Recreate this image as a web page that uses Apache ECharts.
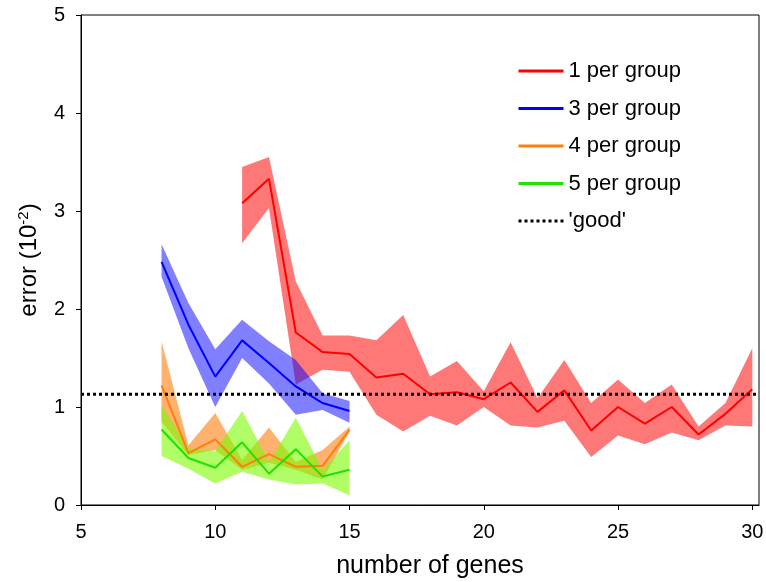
<!DOCTYPE html>
<html>
<head>
    <meta charset="utf-8">
    <script src="https://cdn.jsdelivr.net/npm/echarts@6/dist/echarts.min.js"></script>
    <style>
        html, body { margin: 0; padding: 0; background: #fff; }
    </style>
</head>
<body>
<div id="main" style="width: 766px; height: 582px"></div>
<script type="text/javascript">
    // number of genes per series
    var genes1 = [11, 12, 13, 14, 15, 16, 17, 18, 19, 20, 21, 22, 23, 24, 25, 26, 27, 28, 29, 30];
    var genesSmall = [8, 9, 10, 11, 12, 13, 14, 15];

    // 1 per group
    var mean1 = [3.08, 3.33, 1.76, 1.56, 1.54, 1.30, 1.34, 1.13, 1.15, 1.08, 1.25, 0.95, 1.17, 0.76, 1.00, 0.83, 1.00, 0.72, 0.93, 1.18];
    var hi1   = [3.45, 3.55, 2.28, 1.73, 1.73, 1.68, 1.94, 1.31, 1.47, 1.16, 1.66, 1.09, 1.48, 1.04, 1.28, 1.04, 1.23, 0.80, 1.04, 1.60];
    var lo1   = [2.67, 3.03, 1.23, 1.38, 1.36, 0.92, 0.75, 0.91, 0.81, 1.00, 0.81, 0.79, 0.86, 0.49, 0.71, 0.62, 0.74, 0.66, 0.81, 0.80];

    // 3 per group
    var mean3 = [2.48, 1.84, 1.31, 1.68, 1.45, 1.21, 1.04, 0.96];
    var hi3   = [2.66, 2.06, 1.59, 1.89, 1.67, 1.48, 1.14, 1.06];
    var lo3   = [2.33, 1.60, 1.00, 1.50, 1.24, 0.92, 0.97, 0.84];

    // 4 per group
    var mean4 = [1.22, 0.53, 0.67, 0.39, 0.52, 0.39, 0.40, 0.77];
    var hi4   = [1.67, 0.61, 0.94, 0.46, 0.79, 0.44, 0.56, 0.80];
    var lo4   = [0.85, 0.51, 0.56, 0.36, 0.43, 0.36, 0.26, 0.75];

    // 5 per group
    var mean5 = [0.77, 0.48, 0.38, 0.64, 0.32, 0.57, 0.29, 0.36];
    var hi5   = [1.02, 0.58, 0.55, 0.96, 0.44, 0.89, 0.36, 0.66];
    var lo5   = [0.50, 0.37, 0.22, 0.34, 0.26, 0.21, 0.22, 0.10];

    var goodLevel = 1.13;
    var xTicks = [5, 10, 15, 20, 25, 30];
    var yTicks = [0, 1, 2, 3, 4, 5];

    var font = 'Liberation Sans, Arial, sans-serif';

    function pairs(xs, ys) {
        return xs.map(function (x, i) { return [x, ys[i]]; });
    }

    // shaded band between lo and hi, drawn as one polygon
    function band(xs, lo, hi, color) {
        return {
            type: 'custom',
            silent: true,
            z: 1,
            data: [0],
            renderItem: function (params, api) {
                var pts = [];
                for (var i = 0; i < xs.length; i++) pts.push(api.coord([xs[i], hi[i]]));
                for (var j = xs.length - 1; j >= 0; j--) pts.push(api.coord([xs[j], lo[j]]));
                return {
                    type: 'polygon',
                    shape: { points: pts },
                    style: { fill: color }
                };
            }
        };
    }

    function meanLine(name, xs, ys, color) {
        return {
            name: name, type: 'line', symbol: 'none', z: 3,
            data: pairs(xs, ys),
            lineStyle: { color: color, width: 2 },
            itemStyle: { color: color }
        };
    }

    var myChart = echarts.init(document.getElementById('main'));
    var option = {
        animation: false,
        backgroundColor: '#fff',
        textStyle: { fontFamily: font },
        grid: {
            left: 81, right: 7, top: 15, bottom: 77,
            outerBoundsMode: 'none',
            show: true, borderColor: '#000', borderWidth: 1
        },
        legend: {
            data: ['1 per group', '3 per group', '4 per group', '5 per group', "'good'"],
            orient: 'vertical',
            left: 512, top: 55,
            itemWidth: 45, itemHeight: 22, itemGap: 15.5,
            itemStyle: { opacity: 0 },
            lineStyle: { width: 3 },
            textStyle: { fontSize: 22, color: '#000', fontFamily: font }
        },
        xAxis: {
            type: 'value', min: 5, max: 30.25,
            name: 'number of genes', nameLocation: 'middle', nameGap: 49,
            nameTextStyle: { fontSize: 25, color: '#000', fontFamily: font, padding: [0, 0, 0, 20] },
            splitLine: { show: false },
            axisLine: { lineStyle: { color: '#000', width: 1 } },
            axisTick: { length: 5, lineStyle: { color: '#000' }, customValues: xTicks },
            axisLabel: { fontSize: 20, color: '#000', margin: 17, customValues: xTicks }
        },
        yAxis: {
            type: 'value', min: 0, max: 5, interval: 1,
            name: 'error (10{sup|-2})', nameLocation: 'middle', nameGap: 38, nameRotate: 90,
            nameTextStyle: {
                fontSize: 24, color: '#000', fontFamily: font,
                rich: { sup: { fontSize: 15, verticalAlign: 'top', padding: [0, 0, 12, 0], color: '#000' } }
            },
            splitLine: { show: false },
            axisLine: { show: true, lineStyle: { color: '#000', width: 1 } },
            axisTick: { show: true, length: 5, lineStyle: { color: '#000' }, customValues: yTicks },
            axisLabel: { fontSize: 20, color: '#000', margin: 16, customValues: yTicks }
        },
        series: [
            band(genes1, lo1, hi1, 'rgba(255,0,0,0.53)'),
            band(genesSmall, lo3, hi3, 'rgba(0,0,255,0.5)'),
            band(genesSmall, lo4, hi4, 'rgba(255,127,14,0.6)'),
            band(genesSmall, lo5, hi5, 'rgba(124,252,0,0.6)'),
            meanLine('1 per group', genes1, mean1, '#ff0000'),
            meanLine('3 per group', genesSmall, mean3, '#0000ff'),
            meanLine('4 per group', genesSmall, mean4, '#ff7f0e'),
            meanLine('5 per group', genesSmall, mean5, '#22e000'),
            {
                name: "'good'", type: 'line', symbol: 'none', z: 4,
                data: [[5, goodLevel], [30.25, goodLevel]],
                lineStyle: { color: '#000', width: 3, type: [3, 3] },
                itemStyle: { color: '#000' }
            }
        ]
    };
    myChart.setOption(option);
</script>
</body>
</html>
